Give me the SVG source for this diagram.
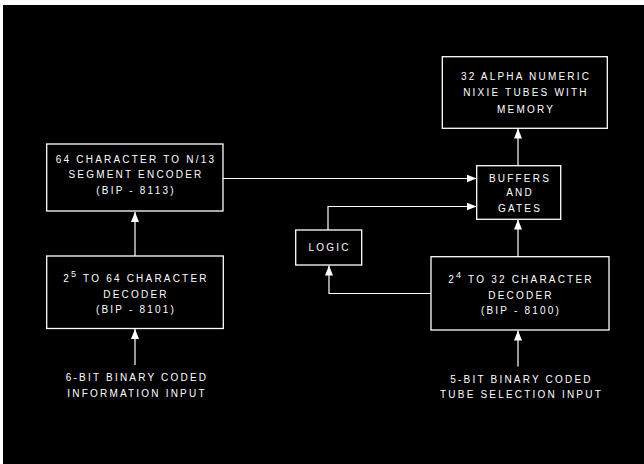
<svg xmlns="http://www.w3.org/2000/svg" width="644" height="464" viewBox="0 0 644 464">
  <defs>
    <marker id="ah" markerWidth="10" markerHeight="8" refX="10" refY="4" orient="auto" markerUnits="userSpaceOnUse">
      <path d="M0,0 L10,4 L0,8 z" fill="#fff"/>
    </marker>
    <style>
      .box { fill: #000; stroke: #fff; stroke-width: 1.3; }
      .t { font-family: "Liberation Sans", Arial, sans-serif; font-size: 10px; fill: #fff; text-anchor: middle; letter-spacing: 2.2px; }
      .c { fill: none; stroke: #fff; stroke-width: 1.2; }
      .sup { font-size: 9px; }
    </style>
  </defs>
  <rect x="0" y="0" width="644" height="464" fill="#fff"/>
  <rect x="3" y="5" width="641" height="459" fill="#000"/>

  <g id="connectors">
    <path class="c" d="M135,256 L135,212" marker-end="url(#ah)"/>
    <path class="c" d="M135,365 L135,329" marker-end="url(#ah)"/>
    <path class="c" d="M223,178.5 L476.5,178.5" marker-end="url(#ah)"/>
    <path class="c" d="M328,230 L328,206.5 L476.5,206.5" marker-end="url(#ah)"/>
    <path class="c" d="M431,293.5 L329,293.5 L329,265.5" marker-end="url(#ah)"/>
    <path class="c" d="M518,256.5 L518,219.5" marker-end="url(#ah)"/>
    <path class="c" d="M518,165.5 L518,128.5" marker-end="url(#ah)"/>
    <path class="c" d="M518,366.5 L518,330.5" marker-end="url(#ah)"/>
  </g>

  <g id="encoder">
    <rect class="box" x="46.7" y="144" width="176.3" height="67"/>
    <text class="t" x="136" y="163">64 CHARACTER TO N/13</text>
    <text class="t" x="136" y="177.5">SEGMENT  ENCODER</text>
    <text class="t" x="136" y="194">(BIP - 8113)</text>
  </g>

  <g id="decoder64">
    <rect class="box" x="46.7" y="256" width="176.6" height="72.5"/>
    <text class="t" x="136" y="282">2<tspan class="sup" dy="-5">5</tspan><tspan dy="5"> TO 64 CHARACTER</tspan></text>
    <text class="t" x="136" y="297.5">DECODER</text>
    <text class="t" x="136" y="313">(BIP - 8101)</text>
  </g>

  <g id="input6">
    <text class="t" x="137" y="381">6-BIT BINARY CODED</text>
    <text class="t" x="137" y="397">INFORMATION  INPUT</text>
  </g>

  <g id="nixie">
    <rect class="box" x="442.3" y="56.7" width="165" height="71.6"/>
    <text class="t" x="526" y="80">32 ALPHA NUMERIC</text>
    <text class="t" x="526" y="96">NIXIE TUBES WITH</text>
    <text class="t" x="526" y="112.5">MEMORY</text>
  </g>

  <g id="buffers">
    <rect class="box" x="476.7" y="165.7" width="84" height="53.6"/>
    <text class="t" x="520" y="181.7">BUFFERS</text>
    <text class="t" x="520" y="196">AND</text>
    <text class="t" x="520" y="211.7">GATES</text>
  </g>

  <g id="logic">
    <rect class="box" x="295.7" y="230" width="66" height="35"/>
    <text class="t" x="329.5" y="251">LOGIC</text>
  </g>

  <g id="decoder32">
    <rect class="box" x="431" y="256.7" width="178" height="73.3"/>
    <text class="t" x="521" y="283.3">2<tspan class="sup" dy="-5">4</tspan><tspan dy="5"> TO 32 CHARACTER</tspan></text>
    <text class="t" x="521" y="298.5">DECODER</text>
    <text class="t" x="521" y="314">(BIP - 8100)</text>
  </g>

  <g id="input5">
    <text class="t" x="521.5" y="382.7">5-BIT BINARY CODED</text>
    <text class="t" x="521.5" y="398.3">TUBE SELECTION INPUT</text>
  </g>
</svg>
